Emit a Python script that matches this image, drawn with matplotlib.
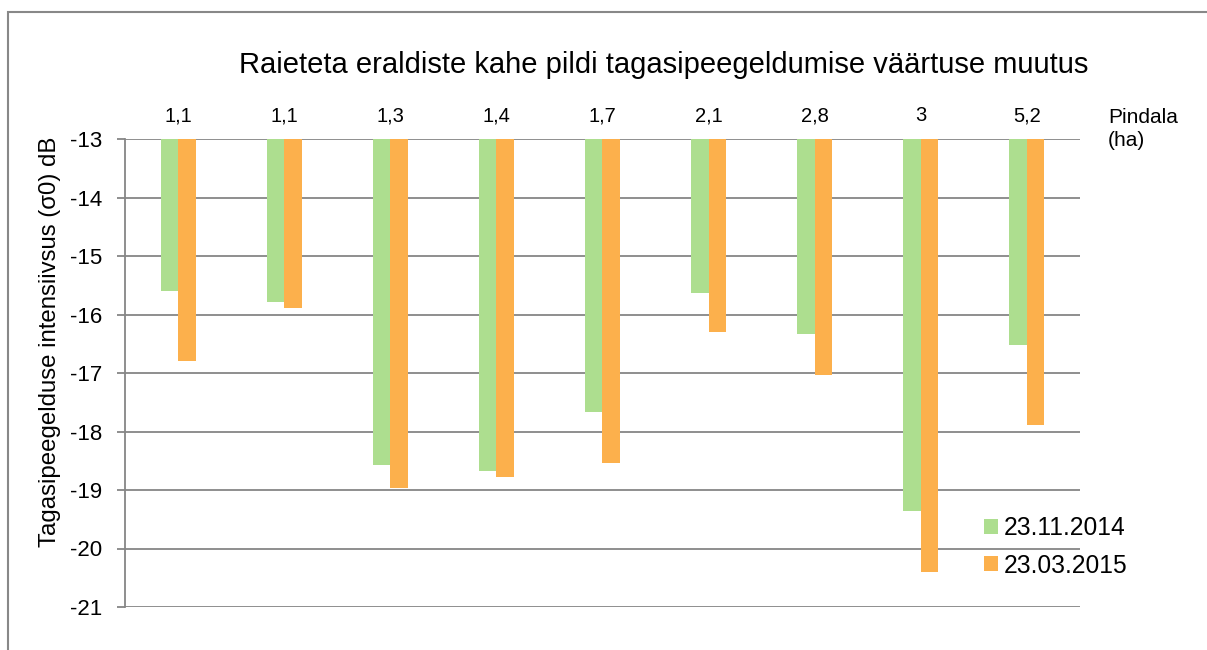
import matplotlib
matplotlib.use("Agg")
import matplotlib.pyplot as plt
import numpy as np
from matplotlib.patches import Rectangle

plt.rcParams['font.family'] = ['Liberation Sans', 'DejaVu Sans']

categories = ["1,1", "1,1", "1,3", "1,4", "1,7", "2,1", "2,8", "3", "5,2"]
series_names = ["23.11.2014", "23.03.2015"]
values_2014 = [-15.59, -15.78, -18.57, -18.67, -17.67, -15.64, -16.34, -19.36, -16.52]
values_2015 = [-16.79, -15.89, -18.96, -18.77, -18.54, -16.30, -17.04, -20.40, -17.89]
yticks = [-13, -14, -15, -16, -17, -18, -19, -20, -21]
colors = ["#ADDE8F", "#FCB04C"]
base = -13

W, H = 1207, 650
fig = plt.figure(figsize=(W / 100, H / 100), dpi=100)
ax = fig.add_axes([125 / W, 1 - 607 / H, (1080 - 125) / W, (607 - 139) / H])

x = np.arange(len(categories))
bw = 0.165
for i, (vals, name) in enumerate(zip([values_2014, values_2015], series_names)):
    heights = [v - base for v in vals]
    ax.bar(x + (i - 0.5) * bw, heights, bw, bottom=base, color=colors[i], label=name, zorder=3)

ax.set_xlim(-0.5, len(categories) - 0.5)
ax.set_ylim(-21, -13)
ax.set_yticks(yticks)
ax.set_yticklabels([str(t) for t in yticks], fontsize=16)
ax.grid(axis='y', color='#868686', linewidth=1.3, zorder=1)
ax.set_axisbelow(True)

ax.xaxis.tick_top()
ax.set_xticks(x)
ax.set_xticklabels(categories, fontsize=14.5)
ax.tick_params(axis='x', length=0, pad=10)
ax.tick_params(axis='y', length=5.8, width=1.3, color='#868686', pad=10.8)

for s in ['right', 'bottom', 'top']:
    ax.spines[s].set_visible(False)
ax.spines['left'].set_color('#868686')
ax.spines['left'].set_linewidth(1.3)

fig.text(50 / W, 1 - 342 / H, "Tagasipeegelduse intensiivsus (σ0) dB", fontsize=17.3,
         rotation=90, ha='center', va='center')

fig.text(664 / W, 1 - 65 / H, "Raieteta eraldiste kahe pildi tagasipeegeldumise väärtuse muutus",
         fontsize=21, ha='center', va='center')
fig.text(1108 / W, 1 - 108 / H, "Pindala\n(ha)", fontsize=15, ha='left', va='top', linespacing=1.25)

leg = ax.legend(loc='upper left', bbox_to_anchor=(984 / W, 1 - 516 / H), bbox_transform=fig.transFigure,
                frameon=False, fontsize=17.7, handlelength=0.55, handleheight=0.55, handletextpad=0.25,
                labelspacing=0.55, borderpad=0, borderaxespad=0)

fig.patches.append(Rectangle((8 / W, -0.1), 1.2, 1 - 12 / H + 0.1, transform=fig.transFigure,
                             fill=False, edgecolor='#888888', linewidth=1.5))

fig.savefig("out.png", dpi=100)
